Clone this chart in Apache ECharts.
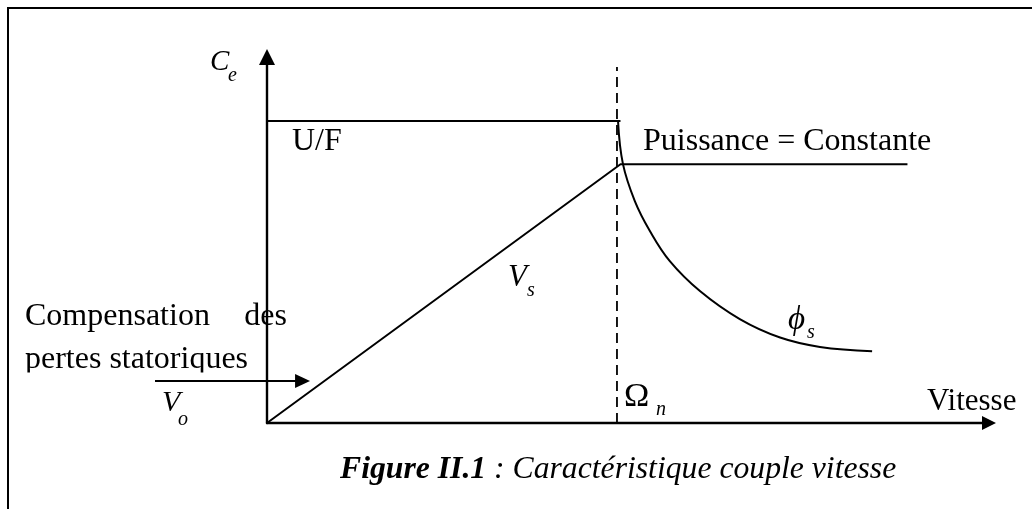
<!DOCTYPE html>
<html>
<head>
<meta charset="utf-8">
<script src="https://cdn.jsdelivr.net/npm/echarts@6/dist/echarts.min.js"></script>
<style>
  html, body { margin: 0; padding: 0; background: #fff; }
  #chart { width: 1032px; height: 509px; }
</style>
</head>
<body>
<div id="chart"></div>
<script>
// Normalised units: speed as Ω / Ωn, torque as Ce / Ce(U/F)
const speedRated = 1.0;        // Ωn
const v0Level = 0.139;         // stator-loss compensation offset V0

// U/F region: constant torque up to the rated speed
const ufSegment = [[0, 1.0], [1.01, 1.0]];
// Stator voltage Vs: rises linearly, then held constant (constant power)
const vsSegment = [[0, 0], [1.01, 0.857], [1.83, 0.857]];
// Stator flux φs: weakens above the rated speed
const phiCurve = [
  [1.003, 1.0], [1.017, 0.858], [1.051, 0.735], [1.094, 0.636],
  [1.151, 0.536], [1.237, 0.437], [1.351, 0.344], [1.466, 0.283],
  [1.580, 0.252], [1.729, 0.238]
];
// Rated-speed marker
const ratedLine = [[speedRated, 0], [speedRated, 1.179]];
// Compensation arrow pointing at V0 on the torque axis
const v0Arrow = [[-0.32, v0Level], [0.123, v0Level]];

const SERIF = "'Liberation Serif', 'Times New Roman', 'DejaVu Serif', serif";
const BLACK = '#000';

const chart = echarts.init(document.getElementById('chart'), null, { renderer: 'canvas' });

function plainLine(data, width, type) {
  return {
    type: 'line', data: data, showSymbol: false, symbol: 'none',
    silent: true, animation: false, clip: false,
    lineStyle: { color: BLACK, width: width, type: type || 'solid' }
  };
}

const hideAxisBits = {
  axisTick: { show: false }, axisLabel: { show: false },
  splitLine: { show: false }
};

const option = {
  animation: false,
  backgroundColor: '#fff',
  grid: { left: 267, right: 43, top: 57, bottom: 86, containLabel: false },
  xAxis: Object.assign({
    type: 'value', min: 0, max: 2.063,
    axisLine: { show: true, onZero: false, symbol: ['none', 'triangle'], symbolSize: [14, 14],
                lineStyle: { color: BLACK, width: 2.4 } }
  }, hideAxisBits),
  yAxis: Object.assign({
    type: 'value', min: 0, max: 1.212,
    axisLine: { show: true, onZero: false, symbol: ['none', 'triangle'], symbolSize: [16, 16],
                lineStyle: { color: BLACK, width: 2.4 } }
  }, hideAxisBits),
  series: [
    plainLine(ratedLine, 1.8, [10, 6]),
    plainLine(ufSegment, 2),
    plainLine(vsSegment, 2),
    Object.assign(plainLine(phiCurve, 2), { smooth: 0.4 })
  ]
};
chart.setOption(option);

function txt(x, y, text, size, extra) {
  return {
    type: 'text', x: x, y: y, silent: true, z: 5,
    style: Object.assign({
      text: text, fill: BLACK, font: size + 'px ' + SERIF,
      align: 'left', verticalAlign: 'middle'
    }, extra || {})
  };
}
function italic(x, y, text, size) {
  return txt(x, y, text, size, { font: 'italic ' + size + 'px ' + SERIF });
}

const a0 = chart.convertToPixel({ gridIndex: 0 }, v0Arrow[0]);
const a1 = chart.convertToPixel({ gridIndex: 0 }, v0Arrow[1]);

chart.setOption({
  graphic: [
    // frame
    { type: 'rect', silent: true, z: 1,
      shape: { x: 8, y: 8, width: 1200, height: 800 },
      style: { fill: 'none', stroke: BLACK, lineWidth: 2 } },

    italic(210, 62, 'C', 29),
    italic(228, 76, 'e', 20),

    txt(292, 142, 'U/F', 32),
    txt(643, 142, 'Puissance = Constante', 32),

    italic(508, 278, 'V', 31),
    italic(527, 291, 's', 20),

    italic(788, 320, '\u03D5', 33),
    italic(807, 333, 's', 20),

    txt(25, 317, 'Compensation', 32),
    txt(287, 317, 'des', 32, { align: 'right' }),
    txt(25, 360, 'pertes statoriques', 32),
    // lower edge of the text block is cut off
    { type: 'rect', silent: true, z: 6,
      shape: { x: 15, y: 372.5, width: 247, height: 6.5 },
      style: { fill: '#fff' } },

    // compensation arrow
    { type: 'line', silent: true, z: 5,
      shape: { x1: a0[0], y1: a0[1], x2: a1[0] - 12, y2: a1[1] },
      style: { stroke: BLACK, lineWidth: 2 } },
    { type: 'polygon', silent: true, z: 5,
      shape: { points: [[a1[0] - 15, a1[1] - 7], [a1[0], a1[1]], [a1[0] - 15, a1[1] + 7]] },
      style: { fill: BLACK } },

    italic(162, 403, 'V', 30),
    italic(178, 420, 'o', 20),

    txt(624, 397, '\u03A9', 34),
    italic(656, 410, 'n', 20),

    txt(927, 402, 'Vitesse', 31),

    { type: 'text', x: 340, y: 470, silent: true, z: 5,
      style: {
        text: '{b|Figure II.1}{i| : Caractéristique couple vitesse}',
        verticalAlign: 'middle', align: 'left',
        rich: {
          b: { font: 'italic bold 31.7px ' + SERIF, fill: BLACK },
          i: { font: 'italic 31.7px ' + SERIF, fill: BLACK }
        }
      } }
  ]
});
</script>
</body>
</html>
